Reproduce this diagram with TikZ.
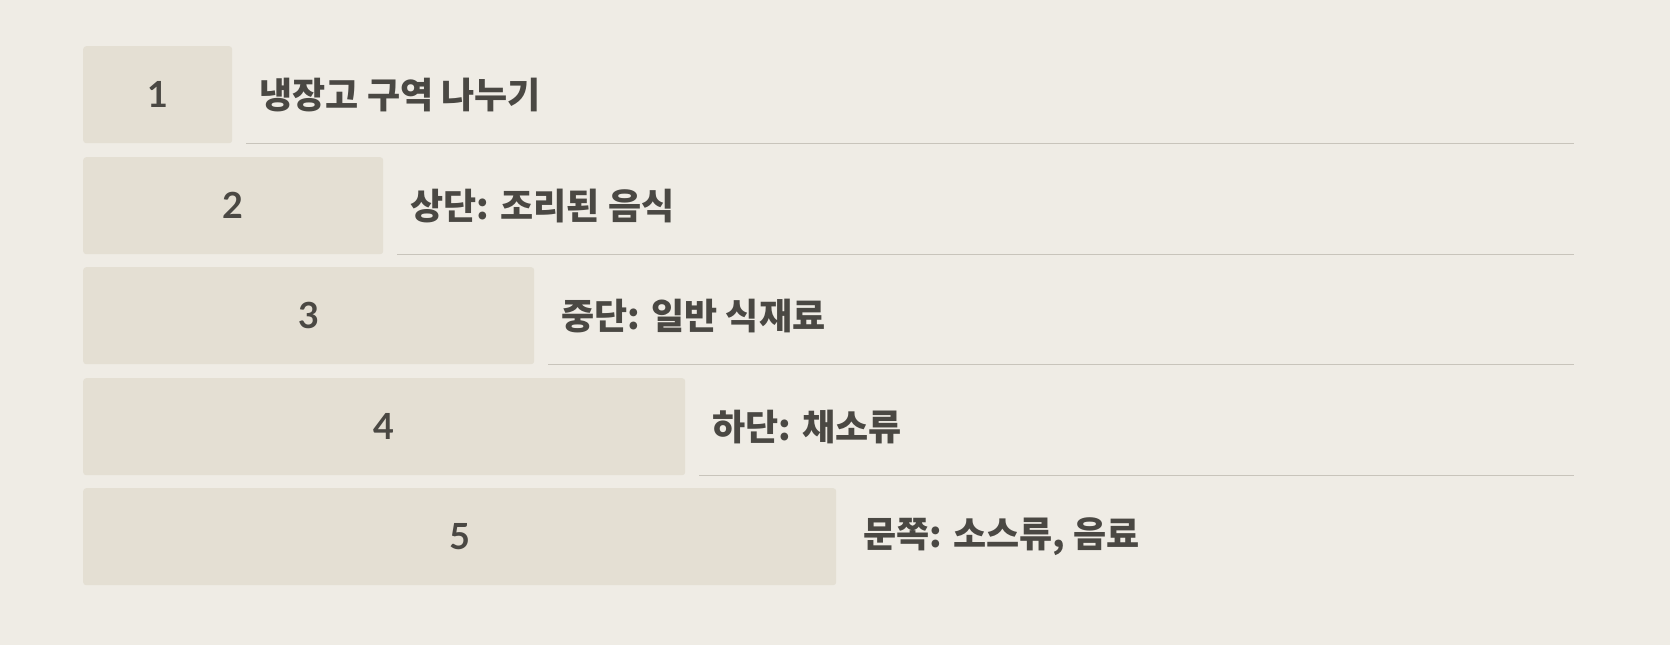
\documentclass[tikz,border=0pt]{standalone}
\usepackage{fontspec}
\setmainfont{Lato}
\newfontfamily\kr{Noto Sans CJK KR}
\definecolor{bg}{HTML}{EFECE5}
\definecolor{boxfill}{HTML}{E4DFD3}
\definecolor{ink}{HTML}{4A4843}
\definecolor{rule}{HTML}{C8C4BB}
\tikzset{
  stepbox/.style={fill=boxfill, rounded corners=3pt, inner sep=0pt, anchor=north west, minimum height=97pt, font=\fontsize{36}{40}\selectfont\bfseries, text=ink},
  steplabel/.style={anchor=west, inner sep=0pt, font=\kr\fontsize{36}{42}\selectfont\bfseries, text=ink},
  steprule/.style={draw=rule, line width=1.5pt}
}
\begin{document}
\begin{tikzpicture}[x=1pt,y=-1pt]
\useasboundingbox[fill=bg] (0,0) rectangle (1670,645);
\node[stepbox, minimum width=149pt] (b1) at (83,46) {1};
\node[stepbox, minimum width=300pt] (b2) at (83,157) {2};
\node[stepbox, minimum width=451pt] (b3) at (83,267) {3};
\node[stepbox, minimum width=602pt] (b4) at (83,378) {4};
\node[stepbox, minimum width=753pt] (b5) at (83,488) {5};
\node[steplabel] (t1) at ([xshift=27pt]b1.east) {냉장고 구역 나누기};
\node[steplabel] (t2) at ([xshift=27pt]b2.east) {상단: 조리된 음식};
\node[steplabel] (t3) at ([xshift=27pt]b3.east) {중단: 일반 식재료};
\node[steplabel] (t4) at ([xshift=27pt]b4.east) {하단: 채소류};
\node[steplabel] (t5) at ([xshift=27pt]b5.east) {문쪽: 소스류, 음료};
\foreach \i in {1,2,3,4}{
  \coordinate (s\i) at ([xshift=14pt]b\i.south east);
  \coordinate (e\i) at (1574,0 |- b\i.south);
  \draw[steprule] (s\i) -- (e\i);
}
\end{tikzpicture}
\end{document}
